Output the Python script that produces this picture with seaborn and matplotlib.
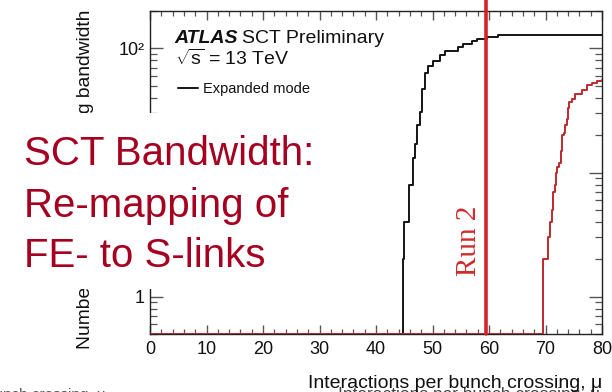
import numpy as np
import pandas as pd
import matplotlib
matplotlib.use("Agg")
import matplotlib.pyplot as plt
from matplotlib.patches import Rectangle
from matplotlib.lines import Line2D
from matplotlib.ticker import FixedLocator, FixedFormatter, MultipleLocator, NullFormatter, LogLocator
import seaborn as sns

# Number of S-links above bandwidth vs pile-up (step curves, value starts at each mu)
mu_expanded = [0.0, 44.7, 45.0, 45.8, 46.5, 46.9, 47.3, 47.8, 48.1, 48.7, 49.2, 50.1,
               51.3, 52.2, 54.5, 55.4, 57.0, 57.9, 59.6, 61.6, 80.0]
n_expanded = [0, 2, 4, 8, 13, 17, 24, 31, 47, 63, 72, 79,
              89, 96, 102, 108, 114, 120, 123, 127, 127]

mu_standard = [0.0, 69.5, 70.4, 70.8, 71.2, 71.3, 71.7, 71.9, 72.0, 72.4, 72.7, 72.9,
               73.3, 73.5, 73.8, 74.0, 74.2, 74.7, 75.2, 76.5, 77.3, 78.2, 79.1, 80.0]
n_standard = [0, 2, 3, 4, 5, 7, 8, 10, 11, 12, 15, 20,
              21, 24, 27, 33, 37, 39, 43, 46, 51, 53, 55, 56]

run2_mu = 59.4

x_ticks = [0, 10, 20, 30, 40, 50, 60, 70, 80]
y_ticks = [1, 10, 100]
y_tick_labels = ["1", "10", "10²"]

Y_LOW, Y_HIGH = 0.5, 200

W, H = 612, 392


def fx(px):
    return px / W


def fy(py):
    return 1 - py / H


sns.set_theme(style="ticks")
plt.rcParams["font.family"] = ["Liberation Sans", "DejaVu Sans"]
plt.rcParams["mathtext.fontset"] = "custom"
plt.rcParams["mathtext.rm"] = "Liberation Sans"
plt.rcParams["mathtext.it"] = "Liberation Sans:italic"

fig = plt.figure(figsize=(W / 100, H / 100), dpi=100)
fig.patch.set_facecolor("white")
ax = fig.add_axes([fx(150), fy(334), (602 - 150) / W, (334 - 11) / H])
ax.set_facecolor("white")

# empty bins are drawn along the frame bottom, as in ROOT histograms
df = pd.concat([
    pd.DataFrame({"mu": mu_expanded, "n": np.maximum(n_expanded, Y_LOW), "mode": "expanded"}),
    pd.DataFrame({"mu": mu_standard, "n": np.maximum(n_standard, Y_LOW), "mode": "standard"}),
], ignore_index=True)

sns.lineplot(data=df, x="mu", y="n", hue="mode",
             palette={"expanded": "#141414", "standard": "#bd2a2e"},
             hue_order=["expanded", "standard"],
             estimator=None, sort=False, drawstyle="steps-post",
             linewidth=1.4, legend=False, ax=ax, zorder=3)

ax.set_yscale("log", nonpositive="clip")
ax.set_xlim(0, 80)
ax.set_ylim(Y_LOW, Y_HIGH)

# vertical Run 2 marker, extending above the frame
ax.axvline(run2_mu, ymin=0, ymax=1.05, color="#d42226", linewidth=2.6,
           clip_on=False, zorder=4)
ax.text(run2_mu - 0.7, 2.8, "Run 2", rotation=90, ha="right", va="center",
        color="#cf2a2a", fontsize=21, family=["Liberation Serif", "DejaVu Serif"])

# ROOT-style frame: ticks inside on all four sides
for s in ax.spines.values():
    s.set_color("#222222")
    s.set_linewidth(1.0)

ax.xaxis.set_major_locator(FixedLocator(x_ticks))
ax.xaxis.set_minor_locator(MultipleLocator(2))
ax.yaxis.set_major_locator(FixedLocator(y_ticks))
ax.yaxis.set_major_formatter(FixedFormatter(y_tick_labels))
ax.yaxis.set_minor_locator(LogLocator(base=10, subs=np.arange(2, 10)))
ax.yaxis.set_minor_formatter(NullFormatter())

ax.tick_params(axis="both", which="both", direction="in", top=True, right=True,
               colors="#555555", labelcolor="#111111", labelsize=13)
ax.tick_params(axis="x", which="major", length=6.5, width=1.0, pad=5)
ax.tick_params(axis="x", which="minor", length=3.5, width=0.9)
ax.tick_params(axis="y", which="major", length=9.5, width=1.0, pad=4)
ax.tick_params(axis="y", which="minor", length=5, width=0.9)

ax.set_xlabel("Interactions per bunch crossing, μ", loc="right", fontsize=14,
              color="#111111", labelpad=12)
ax.set_ylabel("Number of S-links exceeding bandwidth", loc="top", fontsize=13.9,
              color="#111111")
ax.yaxis.set_label_coords(-0.123, 1.003)

# plot header and legend
fig.text(fx(174), fy(43), "ATLAS", fontsize=14, fontweight="bold",
         fontstyle="italic", va="baseline", color="#111111")
fig.text(fx(242), fy(43), "SCT Preliminary", fontsize=14, va="baseline",
         color="#111111")
fig.text(fx(175), fy(65), r"$\sqrt{\mathrm{s}}$ = 13 TeV", fontsize=14,
         va="baseline", color="#111111")
fig.add_artist(Line2D([fx(178), fx(198)], [fy(88), fy(88)], color="#141414",
                      linewidth=1.4))
fig.text(fx(203), fy(93), "Expanded mode", fontsize=10.5, va="baseline",
         color="#111111")

# faint repeated axis titles at the bottom edge
fig.text(fx(106), fy(399), "bunch crossing, μ", fontsize=11, ha="right",
         va="baseline", color="#555555")
fig.text(fx(600), fy(399), "Interactions per bunch crossing, μ", fontsize=12.5,
         ha="right", va="baseline", color="#444444", zorder=-1)

# title panel laid over the left part of the plot
fig.add_artist(Rectangle((0, fy(289)), fx(345), (289 - 113) / H,
                         transform=fig.transFigure, facecolor="white",
                         edgecolor="none", zorder=5))
title_lines = ["SCT Bandwidth:", "Re-mapping of", "FE- to S-links"]
for line, base in zip(title_lines, [165, 217, 267]):
    fig.text(fx(24), fy(base), line, fontsize=29, va="baseline",
             color="#a5001f", zorder=6)

fig.savefig("out.png", dpi=100)
